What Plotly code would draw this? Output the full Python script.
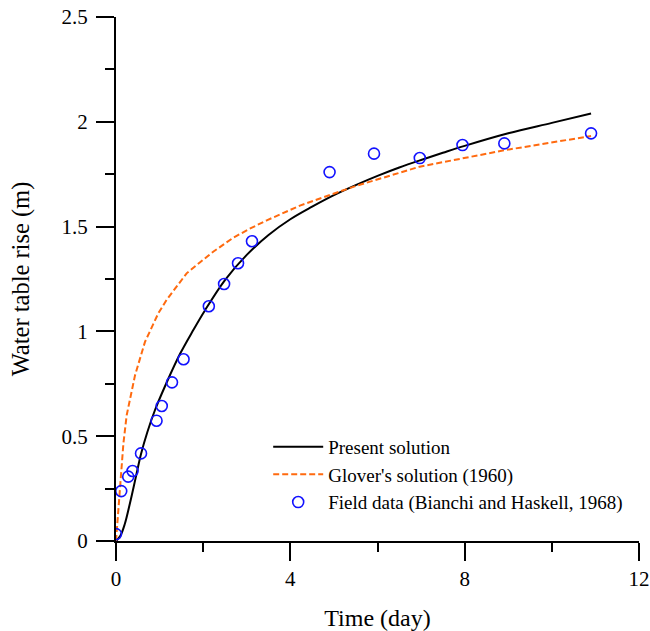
import plotly.graph_objects as go

# Present solution (black solid)
present_t = [0, 0.1, 0.2, 0.32, 0.45, 0.574, 0.72, 0.895, 1.16, 1.47, 1.77, 2.04, 2.5, 3.0, 3.5, 4.0, 4.5, 5.0, 5.5, 6.0, 6.5, 7.0, 7.5, 8.0, 9.0, 10.0, 10.9]
present_h = [0, 0.025, 0.08, 0.18, 0.30, 0.415, 0.52, 0.625, 0.755, 0.893, 1.005, 1.10, 1.245, 1.365, 1.46, 1.535, 1.595, 1.65, 1.698, 1.742, 1.782, 1.818, 1.852, 1.885, 1.945, 1.995, 2.04]

# Glover's solution (1960) (orange dashed)
glover_t = [0, 0.05, 0.09, 0.17, 0.245, 0.436, 0.665, 0.97, 1.16, 1.62, 1.93, 2.23, 2.69, 3.07, 3.46, 4.22, 4.99, 5.52, 6.97, 8.93, 10.9]
glover_h = [0, 0.15, 0.26, 0.466, 0.60, 0.79, 0.95, 1.086, 1.15, 1.277, 1.33, 1.38, 1.447, 1.49, 1.53, 1.60, 1.657, 1.695, 1.786, 1.865, 1.932]

# Field data (Bianchi and Haskell, 1968)
field_t = [0.0, 0.12, 0.28, 0.38, 0.574, 0.93, 1.05, 1.285, 1.55, 2.13, 2.48, 2.80, 3.12, 4.90, 5.92, 6.97, 7.95, 8.91, 10.9]
field_h = [0.033, 0.238, 0.307, 0.334, 0.418, 0.574, 0.644, 0.757, 0.867, 1.12, 1.226, 1.325, 1.43, 1.76, 1.848, 1.827, 1.889, 1.897, 1.945]

x_ticks = [0, 4, 8, 12]
y_ticks = [0, 0.5, 1, 1.5, 2, 2.5]
y_labels = ["0", "0.5", "1", "1.5", "2", "2.5"]

FONT = "Liberation Serif, Times New Roman, serif"

fig = go.Figure()
fig.add_trace(go.Scatter(x=present_t, y=present_h, mode="lines", name="Present solution",
                         line=dict(color="black", width=2), line_shape="spline"))
fig.add_trace(go.Scatter(x=glover_t, y=glover_h, mode="lines", name="Glover's solution (1960)",
                         line=dict(color="#ff6a0f", width=2, dash="6px,3px")))
fig.add_trace(go.Scatter(x=field_t, y=field_h, mode="markers", name="Field data (Bianchi and Haskell, 1968)",
                         marker=dict(symbol="circle-open", size=11, color="#1212ff", line=dict(width=1.6, color="#1212ff"))))

axis_common = dict(showline=True, linecolor="black", linewidth=2, ticks="outside", ticklen=18,
                   tickwidth=2, tickcolor="black", showgrid=False, zeroline=False, automargin=False,
                   ticklabeloverflow="allow",
                   tickfont=dict(family=FONT, size=21, color="black"))

fig.update_xaxes(range=[0, 12], tickvals=x_ticks, ticktext=[str(v) for v in x_ticks],
                 title=dict(text="Time (day)", font=dict(family=FONT, size=24, color="black"), standoff=19),
                 minor=dict(tickvals=[2, 6, 10], ticklen=9, tickwidth=2, tickcolor="black", ticks="outside"),
                 **axis_common)
fig.update_yaxes(range=[0, 2.5], tickvals=y_ticks, ticktext=y_labels, ticklabelstandoff=4,
                 title=dict(text="Water table rise (m)", font=dict(family=FONT, size=24.5, color="black"), standoff=25),
                 minor=dict(tickvals=[0.25, 0.75, 1.25, 1.75, 2.25], ticklen=9, tickwidth=2, tickcolor="black", ticks="outside"),
                 **axis_common)

fig.update_layout(
    width=650, height=631,
    margin=dict(l=116, r=11, t=17, b=90),
    plot_bgcolor="white", paper_bgcolor="white",
    font=dict(family=FONT, color="black"),
    legend=dict(x=0.291, y=0.216, xanchor="left", yanchor="top", bgcolor="rgba(0,0,0,0)",
                font=dict(family=FONT, size=19, color="black"), itemwidth=50, tracegroupgap=0),
)

# remove the page's default body margin so the figure fills the window exactly
fig.write_html("out.html", config={"displayModeBar": False},
               post_script="document.body.style.margin='0';")
